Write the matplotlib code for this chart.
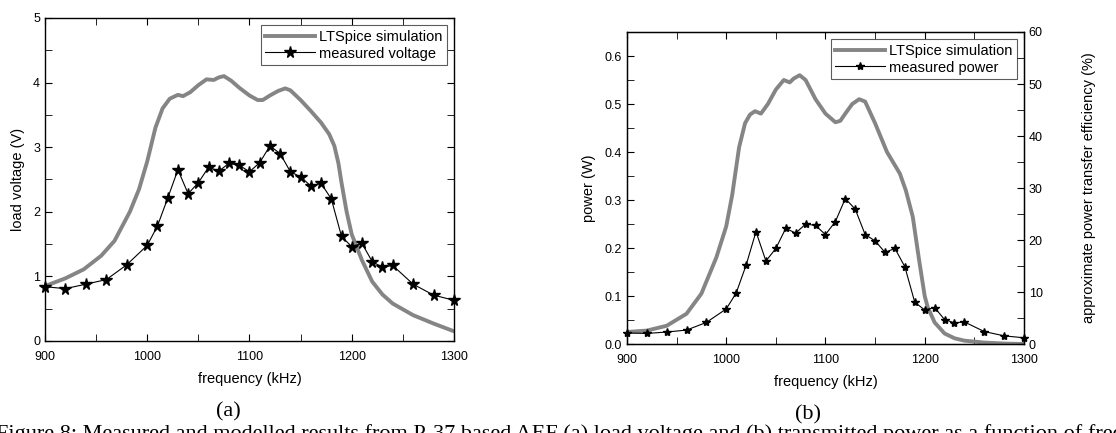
import matplotlib
matplotlib.use("Agg")
import matplotlib.pyplot as plt
from matplotlib.ticker import MultipleLocator

plt.rcParams['font.family'] = ['Liberation Sans', 'DejaVu Sans']

# measured points (same frequency grid in both panels)
freq_meas = [900, 920, 940, 960, 980, 1000, 1010, 1020, 1030, 1040, 1050, 1060, 1070,
             1080, 1090, 1100, 1110, 1120, 1130, 1140, 1150, 1160, 1170, 1180, 1190,
             1200, 1210, 1220, 1230, 1240, 1260, 1280, 1300]
volt_meas = [0.84, 0.81, 0.88, 0.95, 1.18, 1.48, 1.78, 2.21, 2.65, 2.28, 2.45, 2.69, 2.63,
             2.75, 2.72, 2.62, 2.76, 3.02, 2.90, 2.62, 2.54, 2.40, 2.44, 2.20, 1.62,
             1.46, 1.51, 1.23, 1.14, 1.17, 0.88, 0.71, 0.63]
power_meas = [0.023, 0.022, 0.025, 0.029, 0.045, 0.073, 0.106, 0.164, 0.234, 0.173, 0.199,
              0.241, 0.231, 0.250, 0.247, 0.228, 0.255, 0.303, 0.281, 0.228, 0.215, 0.191,
              0.199, 0.161, 0.087, 0.071, 0.076, 0.051, 0.044, 0.046, 0.026, 0.017, 0.013]

# LTSpice simulation, voltage
freq_sim_v = [900, 920, 938, 955, 968, 983, 992, 1000, 1008, 1015, 1022, 1030, 1035, 1042,
              1050, 1058, 1065, 1070, 1075, 1082, 1090, 1100, 1108, 1113, 1120, 1128, 1135,
              1140, 1150, 1160, 1170, 1178, 1183, 1187, 1190, 1195, 1200, 1205, 1210, 1220,
              1230, 1240, 1260, 1280, 1300]
volt_sim = [0.85, 0.97, 1.11, 1.32, 1.55, 2.0, 2.35, 2.78, 3.3, 3.6, 3.75, 3.81, 3.79, 3.85,
            3.96, 4.05, 4.04, 4.08, 4.10, 4.03, 3.92, 3.80, 3.73, 3.73, 3.80, 3.87, 3.91,
            3.88, 3.73, 3.56, 3.38, 3.2, 3.02, 2.75, 2.45, 2.0, 1.65, 1.45, 1.25, 0.92,
            0.72, 0.58, 0.40, 0.27, 0.15]

# LTSpice simulation, power
freq_sim_p = [900, 920, 940, 960, 975, 990, 1000, 1006, 1013, 1019, 1024, 1029, 1035, 1042,
              1050, 1058, 1064, 1068, 1074, 1080, 1090, 1100, 1110, 1115, 1120, 1127, 1134,
              1140, 1150, 1162, 1175, 1181, 1188, 1194, 1200, 1203, 1210, 1220, 1230, 1240,
              1260, 1280, 1300]
power_sim = [0.025, 0.028, 0.038, 0.063, 0.105, 0.18, 0.245, 0.31, 0.41, 0.46, 0.478, 0.485,
             0.48, 0.50, 0.53, 0.55, 0.545, 0.553, 0.56, 0.55, 0.51, 0.48, 0.462, 0.465,
             0.48, 0.50, 0.51, 0.505, 0.46, 0.40, 0.355, 0.32, 0.265, 0.18, 0.10, 0.077,
             0.045, 0.022, 0.012, 0.007, 0.003, 0.001, 0.0]

SIM_C = '#858585'
fig = plt.figure(figsize=(11.16, 4.33), dpi=100)


def style(ax):
    ax.set_xlim(900, 1300)
    ax.xaxis.set_major_locator(MultipleLocator(100))
    ax.xaxis.set_minor_locator(MultipleLocator(50))
    ax.tick_params(which='both', direction='in', top=True, labelsize=9, length=5)
    ax.tick_params(axis='x', pad=7)
    ax.set_xlabel('frequency (kHz)', fontsize=10.5, labelpad=7)
    for s in ax.spines.values():
        s.set_linewidth(1.0)


def legend(ax):
    leg = ax.legend(loc='upper right', fontsize=10.5, frameon=True, fancybox=False,
                    edgecolor='#333333', handlelength=3.4, borderaxespad=0.5,
                    handletextpad=0.3, borderpad=0.3, labelspacing=0.2)
    leg.get_frame().set_linewidth(0.8)


# (a) load voltage
ax1 = fig.add_axes([0.0403, 0.2125, 0.3665, 0.746])
ax1.plot(freq_sim_v, volt_sim, color=SIM_C, lw=2.8, label='LTSpice simulation')
ax1.plot(freq_meas, volt_meas, color='black', lw=0.8, marker='*', ms=8.5,
         label='measured voltage', clip_on=False)
style(ax1)
ax1.set_ylim(0, 5)
ax1.yaxis.set_major_locator(MultipleLocator(1))
ax1.yaxis.set_minor_locator(MultipleLocator(0.5))
ax1.tick_params(which='both', right=True)
ax1.set_ylabel('load voltage (V)', fontsize=10.5, labelpad=6)
legend(ax1)

# (b) power
ax2 = fig.add_axes([0.5618, 0.2055, 0.3557, 0.7206])
ax2.plot(freq_sim_p, power_sim, color=SIM_C, lw=2.8, label='LTSpice simulation')
ax2.plot(freq_meas, power_meas, color='black', lw=0.8, marker='*', ms=6,
         label='measured power', clip_on=False)
style(ax2)
ax2.set_ylim(0, 0.65)
ax2.yaxis.set_major_locator(MultipleLocator(0.1))
ax2.yaxis.set_minor_locator(MultipleLocator(0.05))
ax2.yaxis.set_major_formatter(plt.FormatStrFormatter('%.1f'))
ax2.set_ylabel('power (W)', fontsize=10.5, labelpad=6)
legend(ax2)

ax3 = ax2.twinx()
ax3.set_ylim(0, 60)
ax3.yaxis.set_major_locator(MultipleLocator(10))
ax3.yaxis.set_minor_locator(MultipleLocator(5))
ax3.tick_params(which='both', direction='in', length=5, labelsize=9)
ax3.set_ylabel('approximate power transfer efficiency (%)', fontsize=10.5, labelpad=28)

# sub-figure labels and the cut-off caption line below
fig.text(228 / 1116, 1 - 412 / 433, '(a)', family='Liberation Serif', fontsize=16,
         ha='center', va='center')
fig.text(808 / 1116, 1 - 415 / 433, '(b)', family='Liberation Serif', fontsize=16,
         ha='center', va='center')
fig.text(-4 / 1116, 1 - 424 / 433,
         'Figure 8: Measured and modelled results from P-37 based AEF (a) load voltage and '
         '(b) transmitted power as a function of frequency',
         family='Liberation Serif', fontsize=16, ha='left', va='top')

fig.savefig('out.png', dpi=100)
